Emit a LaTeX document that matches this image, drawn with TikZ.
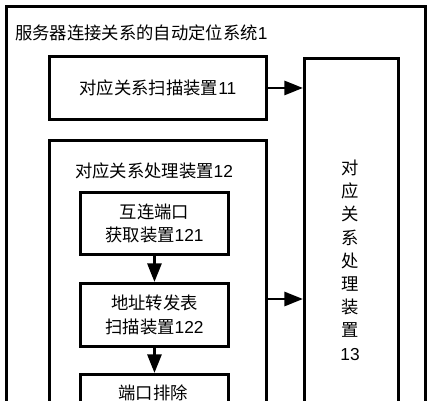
\documentclass[tikz,border=0pt]{standalone}
\usepackage{fontspec}
\setmainfont{Liberation Sans}
\newfontfamily\cjk{Noto Sans CJK SC}
\usetikzlibrary{arrows.meta}
\begin{document}
\begin{tikzpicture}[x=0.75pt,y=-0.75pt,
  box/.style={draw, line width=2.2pt, inner sep=0pt, anchor=north west},
  lbl/.style={font=\fontsize{13}{17.4}\selectfont, inner sep=0pt, align=center},
  arr/.style={line width=2.2pt, -{Triangle[length=14pt,width=10.5pt]}}]
\useasboundingbox (0,0) rectangle (431,400);
\clip (0,0) rectangle (431,400);
\fill[white] (0,0) rectangle (431,400);
% outer system box
\node[box, minimum width=314.25pt, minimum height=330pt] (sys) at (5,5) {};
\node[lbl, anchor=west] (title) at (15,33) {{\cjk 服务器连接关系的自动定位系统}1};
% boxes
\node[box, minimum width=162.75pt, minimum height=47.25pt] (b11) at (48,55) {};
\node[box, minimum width=70.5pt, minimum height=272.25pt] (b13) at (303,57) {};
\node[box, minimum width=162.75pt, minimum height=210.75pt] (b12) at (48,139) {};
\node[box, minimum width=111pt, minimum height=46.5pt] (b121) at (79,191) {};
\node[box, minimum width=111pt, minimum height=47.25pt] (b122) at (79,282) {};
\node[box, minimum width=111pt, minimum height=47.25pt] (b123) at (79,373) {};
% labels
\node[lbl] (t11) at (b11.center) {{\cjk 对应关系扫描装置}11};
\node[lbl] (t12) at (154,171) {{\cjk 对应关系处理装置}12};
\node[lbl] (t121) at (b121.center) {{\cjk 互连端口}\\{\cjk 获取装置}121};
\node[lbl] (t122) at (b122.center) {{\cjk 地址转发表}\\{\cjk 扫描装置}122};
\node[lbl] (t123) at (153,393) {{\cjk 端口排除}};
\node[lbl] (t13) at (350,260) {{\cjk 对}\\{\cjk 应}\\{\cjk 关}\\{\cjk 系}\\{\cjk 处}\\{\cjk 理}\\{\cjk 装}\\{\cjk 置}\\13};
% connectors
\coordinate (a12) at (265,299);
\draw[arr] (b11.east) -- (b13.west |- b11.east);
\draw[arr] (b12.east |- a12) -- (b13.west |- a12);
\draw[arr] (b121.south) -- (b122.north);
\draw[arr] (b122.south) -- (b123.north);
\end{tikzpicture}
\end{document}
